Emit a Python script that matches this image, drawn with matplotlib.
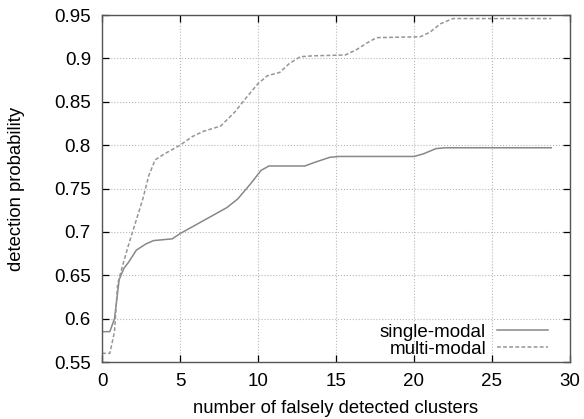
import matplotlib.pyplot as plt

plt.rcParams['font.family'] = ['Liberation Sans', 'DejaVu Sans']

# single-modal curve
single_x = [0, 0.5, 0.8, 1.1, 1.4, 1.7, 2.2, 2.8, 3.3, 4.5, 5.0, 6.0, 7.0, 8.0, 8.7, 9.5, 10.2, 10.7,
            13.0, 13.6, 14.6, 15.2, 20.0, 20.6, 21.4, 22.0, 28.8]
single_y = [0.585, 0.585, 0.600, 0.645, 0.658, 0.665, 0.679, 0.686, 0.690, 0.692, 0.698, 0.708, 0.718, 0.728,
            0.738, 0.755, 0.771, 0.776, 0.776, 0.780, 0.786, 0.787, 0.787, 0.790, 0.796, 0.797, 0.797]

# multi-modal curve
multi_x = [0, 0.5, 0.8, 1.0, 1.3, 1.7, 2.2, 2.6, 3.0, 3.4, 4.0, 5.0, 5.8, 6.5, 7.6, 8.5, 9.3, 10.0, 10.6,
           11.4, 12.0, 12.7, 13.5, 15.6, 16.3, 17.0, 17.6, 20.4, 21.0, 21.7, 22.5, 28.8]
multi_y = [0.560, 0.560, 0.585, 0.640, 0.660, 0.685, 0.714, 0.737, 0.765, 0.783, 0.790, 0.800, 0.810, 0.816,
           0.822, 0.838, 0.856, 0.871, 0.880, 0.884, 0.894, 0.902, 0.903, 0.904, 0.910, 0.918, 0.924,
           0.925, 0.930, 0.940, 0.946, 0.946]

x_ticks = [0, 5, 10, 15, 20, 25, 30]
y_ticks = [0.55, 0.6, 0.65, 0.7, 0.75, 0.8, 0.85, 0.9, 0.95]
y_labels = ['0.55', '0.6', '0.65', '0.7', '0.75', '0.8', '0.85', '0.9', '0.95']

fig = plt.figure(figsize=(5.84, 4.19), dpi=100)
ax = fig.add_axes([0.1747, 0.136, 0.8013, 0.828])

ax.plot(single_x, single_y, color='#888888', lw=1.1, ls='-', label='single-modal')
ax.plot(multi_x, multi_y, color='#959595', lw=1.1, ls=(0, (2.5, 1.5)), label='multi-modal')

ax.set_xlim(0, 30)
ax.set_ylim(0.55, 0.95)
ax.set_xticks(x_ticks)
ax.set_yticks(y_ticks)
ax.set_yticklabels(y_labels)
ax.tick_params(direction='in', top=True, right=True, labelsize=13.5, length=5, width=0.9, pad=8)
ax.grid(True, color='#b8b8b8', ls=':', lw=0.8)
for s in ax.spines.values():
    s.set_color('#555555')
    s.set_linewidth(1.0)

ax.set_xlabel('number of falsely detected clusters', fontsize=13.3, labelpad=7)
ax.set_ylabel('detection probability', fontsize=13.3, labelpad=21)

ax.legend(loc='lower right', bbox_to_anchor=(0.953, 0.012), frameon=False, markerfirst=False,
          fontsize=13.5, handlelength=2.7, labelspacing=0.0, borderaxespad=0, borderpad=0,
          handletextpad=0.6)

fig.savefig('out.png', dpi=100)
